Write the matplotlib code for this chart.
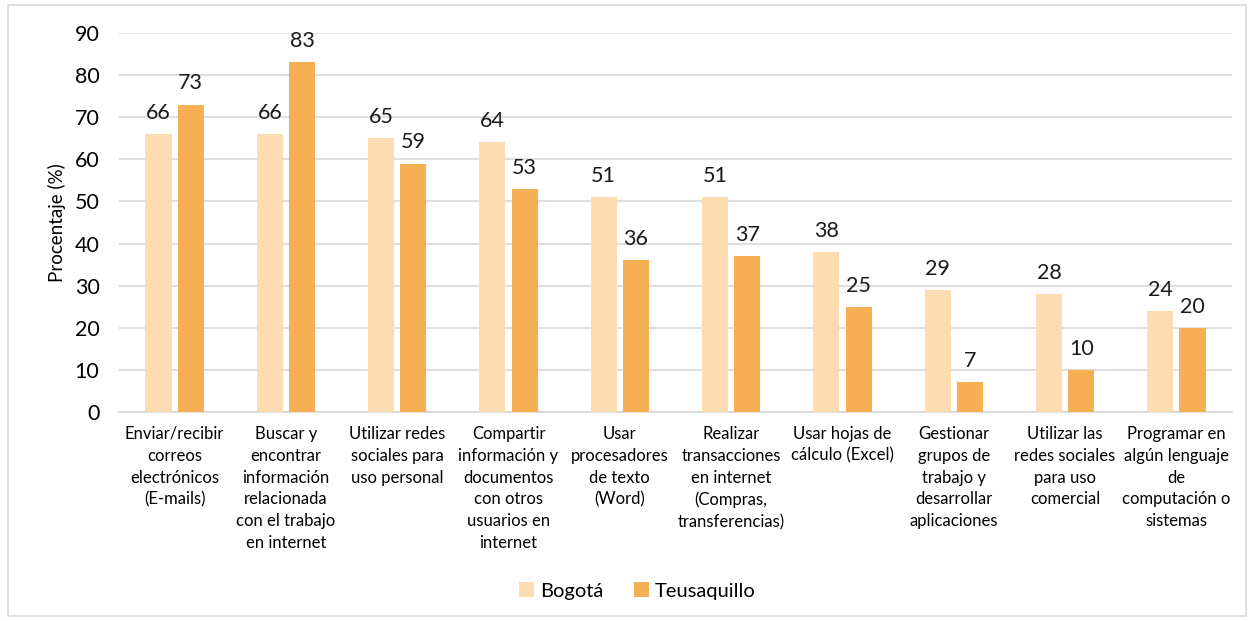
import numpy as np
import matplotlib
matplotlib.use("Agg")
from matplotlib import pyplot as plt
from matplotlib.patches import Rectangle

plt.rcParams['font.family'] = ['Lato', 'DejaVu Sans']

categorias = [
    "Enviar/recibir\ncorreos\nelectrónicos\n(E-mails)",
    "Buscar y\nencontrar\ninformación\nrelacionada\ncon el trabajo\nen internet",
    "Utilizar redes\nsociales para\nuso personal",
    "Compartir\ninformación y\ndocumentos\ncon otros\nusuarios en\ninternet",
    "Usar\nprocesadores\nde texto\n(Word)",
    "Realizar\ntransacciones\nen internet\n(Compras,\ntransferencias)",
    "Usar hojas de\ncálculo (Excel)",
    "Gestionar\ngrupos de\ntrabajo y\ndesarrollar\naplicaciones",
    "Utilizar las\nredes sociales\npara uso\ncomercial",
    "Programar en\nalgún lenguaje\nde\ncomputación o\nsistemas",
]
bogota = [66, 66, 65, 64, 51, 51, 38, 29, 28, 24]
teusaquillo = [73, 83, 59, 53, 36, 37, 25, 7, 10, 20]

c_bog = "#FCDCB0"
c_teu = "#F6AF52"

fig = plt.figure(figsize=(12.55, 6.21), dpi=100)
fig.patches.append(Rectangle((0.006, 0.008), 0.987, 0.984, transform=fig.transFigure,
                             fill=False, edgecolor="#d9d9d9", lw=1.2))
ax = fig.add_axes([0.0948, 0.3366, 0.8869, 0.6103])

x = np.arange(len(categorias))
w = 0.235
b1 = ax.bar(x - 0.145, bogota, w, color=c_bog, label="Bogotá", zorder=3)
b2 = ax.bar(x + 0.145, teusaquillo, w, color=c_teu, label="Teusaquillo", zorder=3)
for bars in (b1, b2):
    ax.bar_label(bars, padding=8, fontsize=15.5, color="#1a1a1a")

ax.set_xlim(-0.5, len(categorias) - 0.5)
ax.set_ylim(0, 90)
ax.set_yticks(range(0, 91, 10))
ax.yaxis.grid(True, color="#d9d9d9", lw=1.2, zorder=0)
for s in ['top', 'right', 'left']:
    ax.spines[s].set_visible(False)
ax.spines['bottom'].set_color("#d9d9d9")
ax.spines['bottom'].set_linewidth(1.2)
ax.tick_params(axis='both', length=0)
ax.tick_params(axis='y', labelsize=15.5, pad=14)
ax.set_xticks(x)
ax.set_xticklabels(categorias, fontsize=12, linespacing=1.45, va='top')
ax.tick_params(axis='x', pad=10)
ax.set_ylabel("Procentaje (%)", fontsize=13.5, labelpad=6)

fig.legend(handles=[b1, b2], loc='center', bbox_to_anchor=(0.508, 0.048), ncol=2,
           frameon=False, fontsize=14.5, handlelength=0.75, handleheight=0.75,
           handletextpad=0.3, columnspacing=1.5)

fig.savefig("out.png", dpi=100)
